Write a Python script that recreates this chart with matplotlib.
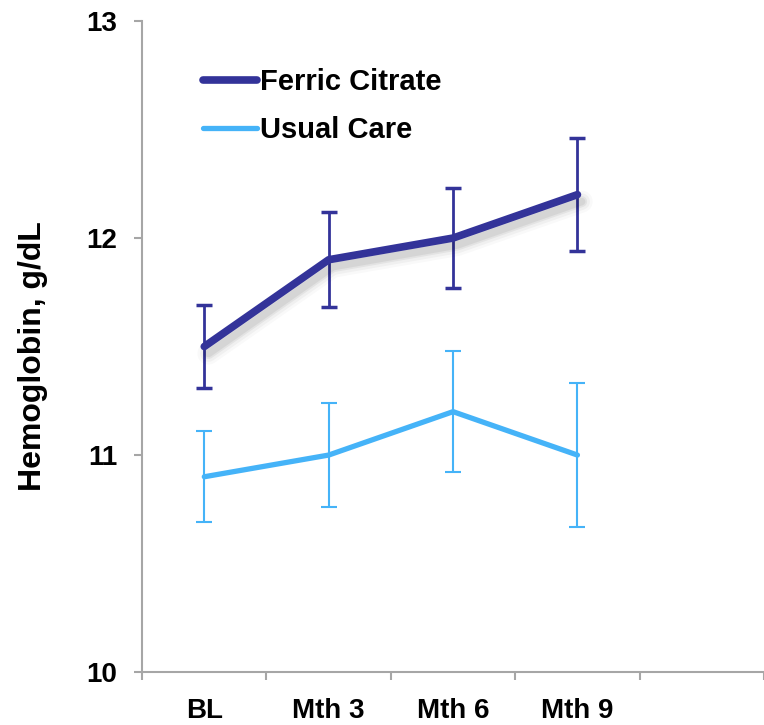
import numpy as np
import matplotlib.pyplot as plt
import matplotlib.patheffects as pe
from matplotlib.font_manager import FontProperties

plt.rcParams['font.family'] = ['Liberation Sans', 'DejaVu Sans']

visits = ['BL', 'Mth 3', 'Mth 6', 'Mth 9']
ferric = [11.5, 11.9, 12.0, 12.2]
ferric_err = [0.19, 0.22, 0.23, 0.26]
usual = [10.9, 11.0, 11.2, 11.0]
usual_err = [0.21, 0.24, 0.28, 0.33]

dark = '#333399'
light = '#45b3f8'
grey = '#a6a6a6'

fig = plt.figure(figsize=(7.64, 7.25), dpi=100)
ax = fig.add_axes([0.186, 0.073, 0.814, 0.898])

x = np.arange(len(visits))

# soft drop shadow for the ferric line
shadow = [pe.Stroke(linewidth=lw, foreground='black', alpha=a, offset=(3, -5))
          for lw, a in [(16, 0.025), (12, 0.035), (8, 0.05), (5.5, 0.06)]]

ax.plot(x, ferric, color=dark, lw=5.5, solid_capstyle='round',
        label='Ferric Citrate', zorder=5,
        path_effects=shadow + [pe.Normal()])
ax.plot(x, usual, color=light, lw=3.8, solid_capstyle='round',
        label='Usual Care', zorder=3)

ax.errorbar(x, usual, yerr=usual_err, fmt='none', ecolor=light,
            elinewidth=1.5, capsize=6, capthick=1.5, zorder=2)
ax.errorbar(x, ferric, yerr=ferric_err, fmt='none', ecolor=dark,
            elinewidth=2, capsize=6, capthick=2.5, zorder=4)

ax.set_xlim(-0.5, 4.5)
ax.set_ylim(10, 13)
ax.set_yticks([10, 11, 12, 13])
ax.set_xticks(x)
ax.set_xticklabels(visits)
ax.set_xticks(np.arange(-0.5, 4.6, 1), minor=True)

for s in ['top', 'right']:
    ax.spines[s].set_visible(False)
for s in ['left', 'bottom']:
    ax.spines[s].set_color(grey)
    ax.spines[s].set_linewidth(1.5)

ax.tick_params(axis='x', which='major', length=0, pad=19, labelsize=20)
ax.tick_params(axis='x', which='minor', length=6, width=1.5, color=grey, direction='out')
ax.tick_params(axis='y', length=6, width=1.5, color=grey, pad=12, labelsize=20)
for lbl in ax.get_xticklabels() + ax.get_yticklabels():
    lbl.set_fontweight('bold')

ax.set_ylabel('Hemoglobin, g/dL', fontsize=23, fontweight='bold')
ax.yaxis.set_label_coords(-0.152, 0.485)

legfont = FontProperties(family='Liberation Sans', weight='bold', size=21)
leg = ax.legend(loc='upper left', bbox_to_anchor=(0.055, 0.968), frameon=False,
                handlelength=1.85, handletextpad=0.12, labelspacing=0.68,
                prop=legfont)
for h in leg.get_lines():
    h.set_path_effects([])

fig.savefig('out.png', dpi=100)
